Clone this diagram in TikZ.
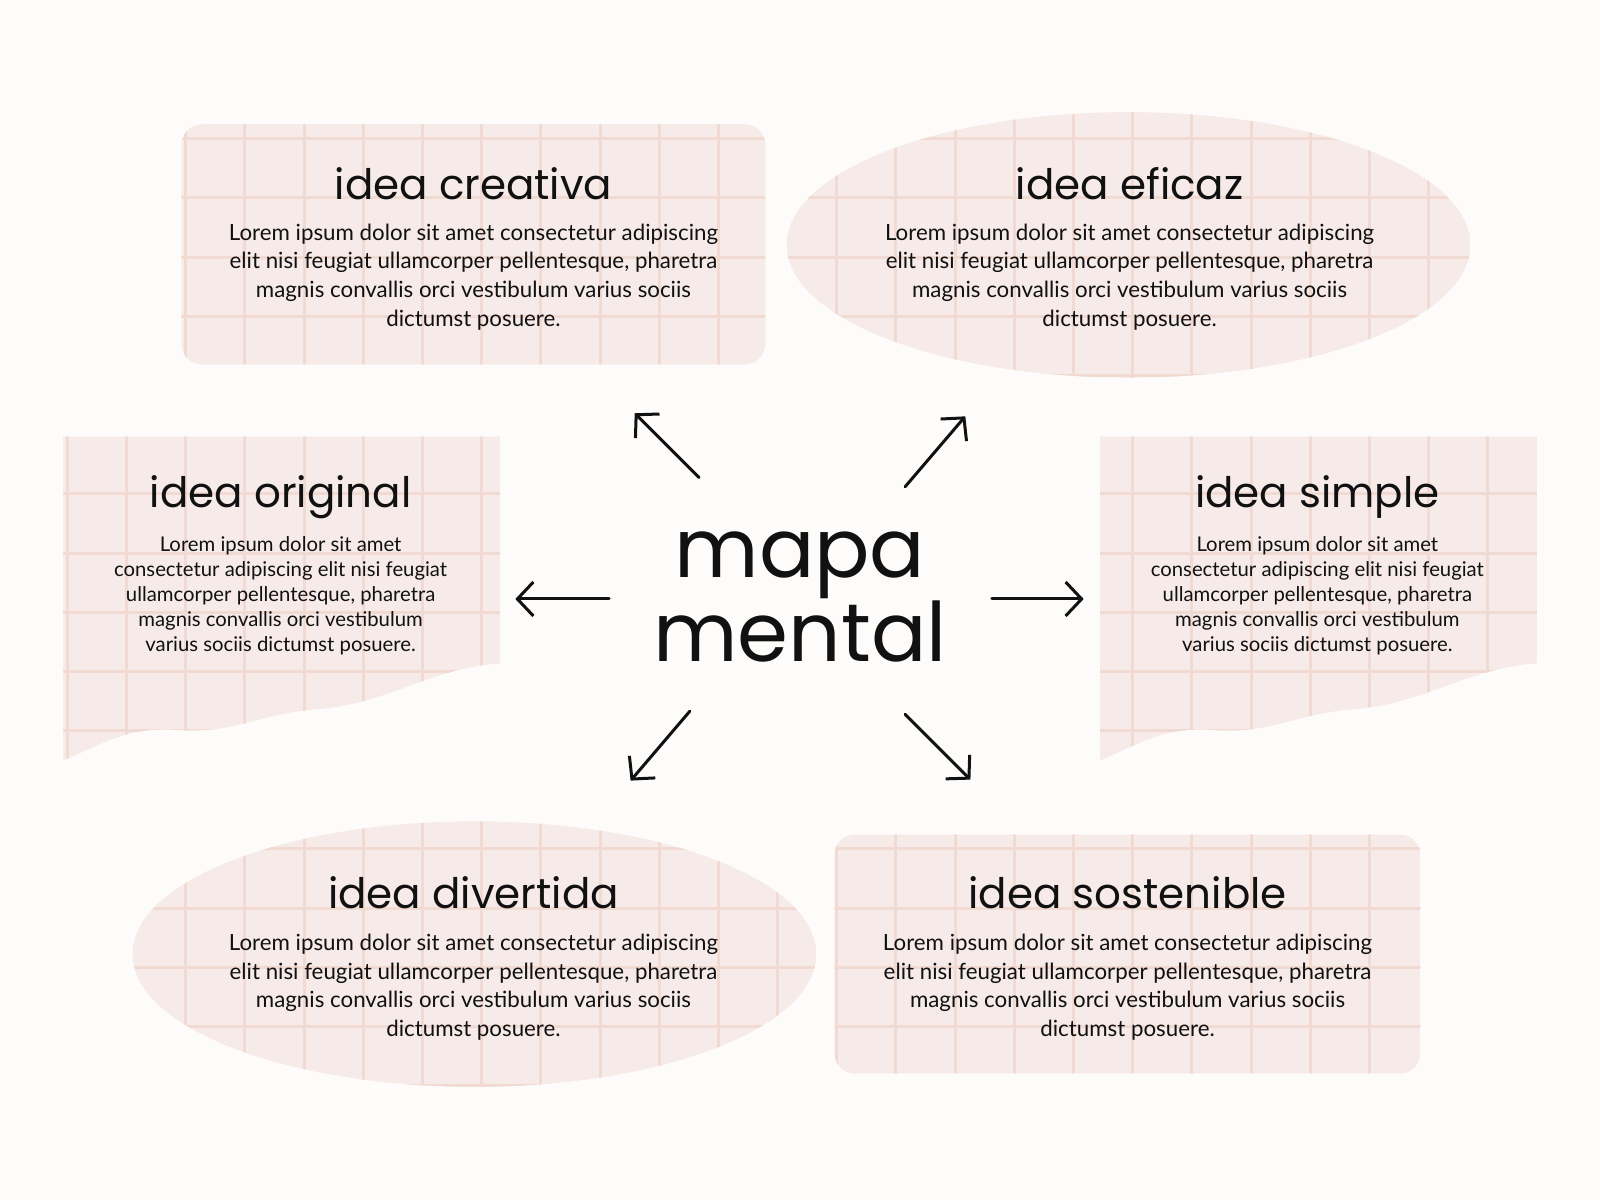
\documentclass[tikz,border=0pt]{standalone}
\usepackage{fontspec}
\setmainfont{Lato}
\newfontfamily\hand{Poppins}
\usetikzlibrary{arrows.meta}
\definecolor{bg}{HTML}{FDFCFA}
\definecolor{paper}{HTML}{F6EBE8}
\definecolor{gridc}{HTML}{EDCDBF}
\definecolor{ink}{HTML}{111111}
\begin{document}
\begin{tikzpicture}[x=1.0204pt,y=-1.0204pt,
  title/.style={font=\hand\fontsize{42}{44}\selectfont, text=ink, anchor=center},
  body/.style={font=\fontsize{22.3}{28.6}\selectfont, text=ink, align=center, anchor=north},
  sbody/.style={font=\fontsize{20.3}{25}\selectfont, text=ink, align=center, anchor=north},
  arr/.style={line width=3pt, ink, line cap=round, -{Straight Barb[length=16pt,width=34pt,line width=3pt]}},
  gridlines/.style={gridc, line width=3pt}]
\useasboundingbox (0,0) rectangle (1568,1176);
\fill[bg] (0,0) rectangle (1568,1176);
\newcommand{\papergrid}[1]{%
  \begin{scope}
  \clip #1;
  \fill[paper] #1;
  \foreach \gx in {0,58,...,1600} \draw[gridlines] (\gx+8,0) -- (\gx+8,1200);
  \foreach \gy in {0,58,...,1200} \draw[gridlines] (0,\gy+20) -- (1600,\gy+20);
  \fill[paper,opacity=0.45] #1;
  \end{scope}}
% shapes
\papergrid{(178,122) [rounded corners=20pt] rectangle (750,357)}
\papergrid{(1106,240) ellipse [x radius=335, y radius=130]}
\papergrid{(62,428) -- (490,428) -- (490,650) .. controls (420,655) and (380,690) .. (310,695) .. controls (250,700) and (230,720) .. (170,715) .. controls (120,712) and (90,735) .. (62,745) -- cycle}
\papergrid{(1078,428) -- (1506,428) -- (1506,650) .. controls (1436,655) and (1396,690) .. (1326,695) .. controls (1266,700) and (1246,720) .. (1186,715) .. controls (1136,712) and (1106,735) .. (1078,745) -- cycle}
\papergrid{(465,935) ellipse [x radius=335, y radius=130]}
\papergrid{(818,818) [rounded corners=20pt] rectangle (1392,1052)}
% texts
\node[title] (t1) at (464,180) {idea creativa};
\node[body] (b1) at (464,216) {Lorem ipsum dolor sit amet consectetur adipiscing\\elit nisi feugiat ullamcorper pellentesque, pharetra\\magnis convallis orci vestibulum varius sociis\\dictumst posuere.};
\node[title] (t2) at (1107,180) {idea eficaz};
\node[body] (b2) at (1107,216) {Lorem ipsum dolor sit amet consectetur adipiscing\\elit nisi feugiat ullamcorper pellentesque, pharetra\\magnis convallis orci vestibulum varius sociis\\dictumst posuere.};
\node[title] (t3) at (275,487) {idea original};
\node[sbody] (b3) at (275,522) {Lorem ipsum dolor sit amet\\consectetur adipiscing elit nisi feugiat\\ullamcorper pellentesque, pharetra\\magnis convallis orci vestibulum\\varius sociis dictumst posuere.};
\node[title] (t4) at (1291,487) {idea simple};
\node[sbody] (b4) at (1291,522) {Lorem ipsum dolor sit amet\\consectetur adipiscing elit nisi feugiat\\ullamcorper pellentesque, pharetra\\magnis convallis orci vestibulum\\varius sociis dictumst posuere.};
\node[title] (t5) at (464,875) {idea divertida};
\node[body] (b5) at (464,912) {Lorem ipsum dolor sit amet consectetur adipiscing\\elit nisi feugiat ullamcorper pellentesque, pharetra\\magnis convallis orci vestibulum varius sociis\\dictumst posuere.};
\node[title] (t6) at (1105,875) {idea sostenible};
\node[body] (b6) at (1105,912) {Lorem ipsum dolor sit amet consectetur adipiscing\\elit nisi feugiat ullamcorper pellentesque, pharetra\\magnis convallis orci vestibulum varius sociis\\dictumst posuere.};
\node[font=\hand\fontsize{82}{84}\selectfont, text=ink, align=center] (c) at (784,585) {mapa\\mental};
% arrows
\coordinate (a1s) at (685,468); \coordinate (a1e) at (622,405);
\coordinate (a2s) at (887,477); \coordinate (a2e) at (946,408);
\coordinate (a3s) at (597,587); \coordinate (a3e) at (505,587);
\coordinate (a4s) at (972,587); \coordinate (a4e) at (1062,587);
\coordinate (a5s) at (676,697); \coordinate (a5e) at (618,765);
\coordinate (a6s) at (887,700); \coordinate (a6e) at (951,764);
\foreach \i in {1,...,6} \draw[arr] (a\i s) -- (a\i e);
\end{tikzpicture}
\end{document}
